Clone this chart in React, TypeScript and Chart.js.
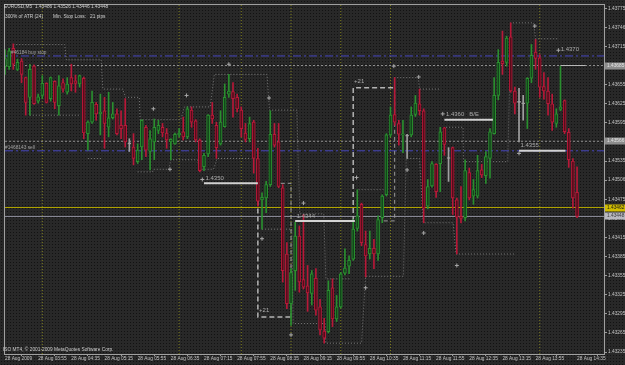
import React, { useEffect, useRef } from "react";
import { Chart, registerables } from "chart.js";

Chart.register(...registerables);

const SYMBOL = "EURUSD,M5";

const opens = [1.43683,1.43683,1.43712,1.43679,1.43692,1.43666,1.43635,1.43684,1.43629,1.43638,1.43657,1.43633,1.43660,1.43622,1.43658,1.43643,1.43666,1.43661,1.43656,1.43665,1.43578,1.43596,1.43624,1.43609,1.43614,1.43588,1.43603,1.43609,1.43591,1.43591,1.43562,1.43557,1.43534,1.43557,1.43588,1.43550,1.43565,1.43583,1.43588,1.43579,1.43565,1.43562,1.43576,1.43581,1.43573,1.43615,1.43598,1.43568,1.43526,1.43546,1.43607,1.43591,1.43562,1.43589,1.43640,1.43644,1.43635,1.43615,1.43579,1.43570,1.43596,1.43539,1.43474,1.43477,1.43498,1.43577,1.43565,1.43493,1.43389,1.43311,1.43363,1.43417,1.43349,1.43339,1.43327,1.43351,1.43306,1.43268,1.43267,1.43336,1.43287,1.43306,1.43359,1.43370,1.43381,1.43429,1.43467,1.43404,1.43389,1.43398,1.43389,1.43446,1.43482,1.43576,1.43608,1.43594,1.43576,1.43574,1.43576,1.43608,1.43625,1.43614,1.43464,1.43496,1.43530,1.43531,1.43587,1.43539,1.43556,1.43474,1.43448,1.43446,1.43517,1.43480,1.43480,1.43521,1.43512,1.43539,1.43578,1.43638,1.43692,1.43690,1.43730,1.43645,1.43627,1.43625,1.43626,1.43665,1.43706,1.43697,1.43652,1.43645,1.43625,1.43594,1.43616,1.43630,1.43580,1.43535,1.43486];
const highs = [1.43710,1.43712,1.43719,1.43695,1.43696,1.43667,1.43687,1.43686,1.43640,1.43669,1.43658,1.43667,1.43661,1.43669,1.43664,1.43666,1.43687,1.43670,1.43670,1.43667,1.43598,1.43645,1.43627,1.43640,1.43635,1.43643,1.43627,1.43617,1.43614,1.43633,1.43570,1.43578,1.43562,1.43600,1.43591,1.43583,1.43601,1.43599,1.43594,1.43586,1.43570,1.43579,1.43586,1.43604,1.43620,1.43620,1.43600,1.43570,1.43547,1.43608,1.43627,1.43596,1.43614,1.43656,1.43671,1.43658,1.43640,1.43620,1.43594,1.43604,1.43599,1.43555,1.43485,1.43503,1.43614,1.43594,1.43594,1.43498,1.43407,1.43366,1.43439,1.43433,1.43451,1.43371,1.43363,1.43366,1.43318,1.43288,1.43347,1.43350,1.43324,1.43360,1.43397,1.43386,1.43443,1.43490,1.43469,1.43425,1.43425,1.43412,1.43449,1.43482,1.43578,1.43620,1.43666,1.43599,1.43599,1.43577,1.43620,1.43638,1.43648,1.43617,1.43506,1.43534,1.43531,1.43588,1.43588,1.43556,1.43557,1.43477,1.43495,1.43537,1.43524,1.43506,1.43544,1.43530,1.43550,1.43586,1.43666,1.43710,1.43739,1.43731,1.43752,1.43651,1.43649,1.43638,1.43666,1.43718,1.43726,1.43702,1.43674,1.43666,1.43640,1.43617,1.43684,1.43631,1.43586,1.43539,1.43526];
const lows = [1.43671,1.43679,1.43679,1.43677,1.43658,1.43607,1.43607,1.43624,1.43626,1.43633,1.43626,1.43629,1.43617,1.43607,1.43643,1.43640,1.43645,1.43643,1.43651,1.43570,1.43552,1.43594,1.43599,1.43576,1.43555,1.43573,1.43601,1.43576,1.43570,1.43557,1.43550,1.43529,1.43531,1.43537,1.43542,1.43521,1.43537,1.43578,1.43573,1.43555,1.43537,1.43561,1.43573,1.43568,1.43570,1.43588,1.43565,1.43518,1.43520,1.43542,1.43594,1.43539,1.43560,1.43588,1.43635,1.43604,1.43612,1.43573,1.43565,1.43565,1.43516,1.43464,1.43428,1.43454,1.43495,1.43557,1.43493,1.43345,1.43303,1.43277,1.43332,1.43329,1.43334,1.43299,1.43309,1.43293,1.43262,1.43249,1.43265,1.43275,1.43283,1.43304,1.43356,1.43358,1.43379,1.43425,1.43402,1.43353,1.43381,1.43366,1.43379,1.43438,1.43480,1.43573,1.43591,1.43560,1.43548,1.43539,1.43573,1.43605,1.43607,1.43438,1.43460,1.43494,1.43478,1.43487,1.43544,1.43503,1.43451,1.43389,1.43438,1.43441,1.43474,1.43467,1.43477,1.43509,1.43500,1.43508,1.43577,1.43631,1.43671,1.43684,1.43643,1.43609,1.43565,1.43599,1.43586,1.43658,1.43679,1.43635,1.43632,1.43607,1.43583,1.43588,1.43614,1.43578,1.43525,1.43461,1.43446];
const closes = [1.43696,1.43708,1.43687,1.43690,1.43671,1.43627,1.43679,1.43625,1.43636,1.43657,1.43627,1.43666,1.43627,1.43653,1.43648,1.43656,1.43656,1.43657,1.43669,1.43579,1.43596,1.43627,1.43609,1.43612,1.43594,1.43603,1.43609,1.43578,1.43586,1.43565,1.43562,1.43539,1.43552,1.43599,1.43552,1.43570,1.43588,1.43591,1.43579,1.43568,1.43569,1.43577,1.43579,1.43573,1.43617,1.43596,1.43568,1.43520,1.43544,1.43607,1.43601,1.43556,1.43596,1.43635,1.43645,1.43633,1.43617,1.43586,1.43569,1.43594,1.43539,1.43472,1.43478,1.43498,1.43577,1.43560,1.43495,1.43363,1.43311,1.43360,1.43417,1.43345,1.43337,1.43328,1.43358,1.43301,1.43270,1.43257,1.43332,1.43287,1.43306,1.43358,1.43367,1.43379,1.43428,1.43449,1.43407,1.43386,1.43398,1.43389,1.43443,1.43480,1.43576,1.43607,1.43596,1.43577,1.43577,1.43574,1.43607,1.43626,1.43614,1.43461,1.43495,1.43531,1.43487,1.43581,1.43561,1.43539,1.43477,1.43447,1.43445,1.43520,1.43477,1.43490,1.43520,1.43513,1.43542,1.43581,1.43638,1.43690,1.43688,1.43728,1.43645,1.43626,1.43627,1.43625,1.43665,1.43701,1.43696,1.43651,1.43645,1.43625,1.43596,1.43609,1.43620,1.43581,1.43537,1.43477,1.43448];

const xTickIdx = [0, 8, 16, 24, 32, 40, 48, 56, 64, 72, 80, 88, 96, 104, 112, 120, 128, 138];
const xTickLabels = ["28 Aug 2009", "28 Aug 03:55", "28 Aug 04:35", "28 Aug 05:15", "28 Aug 05:55", "28 Aug 06:35", "28 Aug 07:15", "28 Aug 07:55", "28 Aug 08:35", "28 Aug 09:15", "28 Aug 09:55", "28 Aug 10:35", "28 Aug 11:15", "28 Aug 11:55", "28 Aug 12:35", "28 Aug 13:15", "28 Aug 13:55", "28 Aug 14:35"];

const yTickValues = [1.43775, 1.43745, 1.43715, 1.43685, 1.43655, 1.43625, 1.43595, 1.43565, 1.43535, 1.43505, 1.43475, 1.43445, 1.43415, 1.43385, 1.43355, 1.43325, 1.43295, 1.43265, 1.43235];
const yTickLabels = ["1.43775", "1.43746", "1.43715", "1.43685", "1.43655", "1.43625", "1.43595", "1.43566", "1.43535", "1.43506", "1.43475", "1.43446", "1.43415", "1.43385", "1.43355", "1.43325", "1.43295", "1.43265", "1.43235"];

const separatorIdx = [9, 42, 57, 69, 81, 93, 129];

const orderLevels = [1.43700, 1.43551];
const orderLabels = ["#46184 buy stop", "#1468143 sell"];
const dottedLevels = [1.43685, 1.43566];
const dottedLabels = ["1.43685", "1.43566"];
const askPrice = 1.43462;
const bidPrice = 1.43448;

const upperStops = [
  [2, 14.4, 1.43718], [14.8, 23.2, 1.43694], [23.6, 28.4, 1.43648], [29.1, 32.4, 1.43635],
  [32.6, 42.4, 1.43600], [43.3, 49.5, 1.43620], [50.5, 63.2, 1.43671], [63.8, 70.4, 1.43615],
  [71.1, 76.9, 1.43452], [77.4, 83.5, 1.43350], [85.3, 91.3, 1.43490], [93.9, 99.7, 1.43666],
  [100, 105.2, 1.43648], [106.4, 110.5, 1.43588], [110.6, 121.3, 1.43534], [122, 127.5, 1.43752],
  [128, 133.3, 1.43727],
];
const lowerStops = [
  [6, 18.3, 1.43607], [20, 23.6, 1.43539], [32, 35.6, 1.43518], [35.8, 39.5, 1.43522],
  [40, 46.4, 1.43537], [47, 50.3, 1.43522], [51.2, 59.4, 1.43539], [62, 69.2, 1.43428],
  [69.5, 77.2, 1.43280], [77.4, 86, 1.43249], [87, 96.1, 1.43354], [96.8, 100, 1.43539],
  [100.9, 108.1, 1.43438], [108.8, 123.2, 1.43389],
];

const profitEdgesMain = [
  [[61, 1.43498], [61, 1.43290], [69, 1.43290]],
  [[84, 1.43441], [84, 1.43650], [94, 1.43650]],
];
const profitEdgesSide = [
  [[69, 1.43290], [69, 1.43500], [66, 1.43500]],
  [[94, 1.43650], [94, 1.43441], [91, 1.43441]],
];
const profitText = ["+21", "+21"];
const profitTextAt = [[61.3, 1.43296], [84.2, 1.43656]];

const entryStart = [48, 70, 106, 124];
const entryEnd = [61, 84.4, 117.7, 135.2];
const entryPrice = [1.43500, 1.43441, 1.43600, 1.43551];
const entryText = ["1.4350", "1.4344", "1.4360   B/E", "1.4355"];
const targetText = "1.4370";
const targetAt = [133.8, 1.43705];
const targetLine = [134, 140, 1.43685];

const markerIdx = [35.8, 43.8, 54, 63.7, 39.8, 62, 69, 84.8, 72, 87, 93.8, 99.8, 97, 101, 127.8, 109, 47.6, 105.6, 124, 133.5];
const markerPrice = [1.43617, 1.43638, 1.43687, 1.43634, 1.43522, 1.43413, 1.43262, 1.43509, 1.43469, 1.43336, 1.43684, 1.43667, 1.43521, 1.43422, 1.43747, 1.43371, 1.43506, 1.43609, 1.43547, 1.43709];

const X_MIN = 0;
const X_MAX = 144.5;
const Y_MIN = 1.43232;
const Y_MAX = 1.4378;
const FONT = '"Liberation Sans", Arial, sans-serif';

function stepPoints(segs: number[][]) {
  const pts: any[] = [];
  let prevEnd: number | null = null;
  for (const [s, e, p] of segs) {
    if (prevEnd !== null && s - prevEnd > 1.2) pts.push({ x: (s + prevEnd) / 2, y: null });
    pts.push({ x: s, y: p }, { x: e, y: p });
    prevEnd = e;
  }
  return pts;
}

function hLine(p: number, color: string, dash: number[], width = 1, order = 9) {
  return {
    type: "line",
    data: [{ x: X_MIN, y: p }, { x: X_MAX, y: p }],
    borderColor: color,
    borderWidth: width,
    borderDash: dash,
    pointRadius: 0,
    order,
  };
}

function polyline(pts: number[][], color: string, width: number, dash: number[], order: number) {
  return {
    type: "line",
    data: pts.map(([x, y]) => ({ x, y })),
    borderColor: color,
    borderWidth: width,
    borderDash: dash,
    pointRadius: 0,
    order,
  };
}

export default function App() {
  const ref = useRef<HTMLCanvasElement | null>(null);

  useEffect(() => {
    if (!ref.current) return;
    const n = opens.length;
    const idx = opens.map((_, i) => i);
    const bull = "#2a8f2f";
    const bear = "#b81838";
    const doji = "#a0a0a0";
    const lineCol = idx.map((i) => (closes[i] > opens[i] ? bull : closes[i] < opens[i] ? bear : doji));
    const fillCol = idx.map((i) => (closes[i] > opens[i] ? "#12461a" : closes[i] < opens[i] ? "#540d1b" : doji));

    const vData: any[] = [];
    separatorIdx.forEach((v) => {
      vData.push({ x: v, y: Y_MIN }, { x: v, y: Y_MAX }, { x: v, y: null });
    });

    const tile = document.createElement("canvas");
    tile.width = 3;
    tile.height = 3;
    const tctx = tile.getContext("2d")!;
    tctx.fillStyle = "#282828";
    tctx.fillRect(0, 0, 3, 3);
    tctx.fillStyle = "#121212";
    tctx.fillRect(1, 1, 1, 1);

    const datasets: any[] = [
      {
        type: "line",
        data: vData,
        borderColor: "#7c7c1c",
        borderWidth: 1,
        borderDash: [1, 2],
        pointRadius: 0,
        spanGaps: false,
        order: 12,
      },
      hLine(dottedLevels[0], "#8c8c8c", [2, 2], 1, 11),
      hLine(dottedLevels[1], "#8c8c8c", [2, 2], 1, 11),
      hLine(orderLevels[0], "#4848c0", [8, 3, 2, 3], 1, 10),
      hLine(orderLevels[1], "#4848c0", [8, 3, 2, 3], 1, 10),
      hLine(askPrice, "#b0a400", [], 1, 10),
      hLine(bidPrice, "#8e8e9c", [], 1, 10),
      {
        type: "line",
        data: stepPoints(upperStops),
        borderColor: "#787878",
        borderWidth: 1,
        borderDash: [1, 2],
        pointRadius: 0,
        spanGaps: false,
        order: 8,
      },
      {
        type: "line",
        data: stepPoints(lowerStops),
        borderColor: "#787878",
        borderWidth: 1,
        borderDash: [1, 2],
        pointRadius: 0,
        spanGaps: false,
        order: 8,
      },
      ...profitEdgesMain.map((b) => polyline(b, "#b4b4b4", 1.5, [5, 3], 7)),
      ...profitEdgesSide.map((b) => polyline(b, "#9a9a9a", 1, [4, 3], 7)),
      {
        type: "bar",
        data: idx.map((i) => ({ x: i, y: [lows[i], highs[i]] })),
        backgroundColor: lineCol,
        borderWidth: 0,
        barThickness: 1,
        grouped: false,
        order: 3,
      },
      {
        type: "bar",
        data: idx.map((i) => ({ x: i, y: [opens[i], closes[i]] })),
        backgroundColor: fillCol,
        borderColor: lineCol,
        borderWidth: 1,
        borderSkipped: false,
        barThickness: 3,
        minBarLength: 1,
        grouped: false,
        order: 2,
      },
      ...entryPrice.map((p, k) => ({
        type: "line",
        data: [{ x: entryStart[k], y: p }, { x: entryEnd[k], y: p }],
        borderColor: "#d2d2d2",
        borderWidth: 2,
        pointRadius: 0,
        order: 1,
      })),
      {
        type: "line",
        data: [{ x: targetLine[0], y: targetLine[2] }, { x: targetLine[1], y: targetLine[2] }],
        borderColor: "#b8b8b8",
        borderWidth: 1,
        pointRadius: 0,
        order: 1,
      },
      {
        type: "scatter",
        data: markerIdx.map((x, k) => ({ x, y: markerPrice[k] })),
        pointStyle: "cross",
        pointRadius: 2,
        borderColor: "#a8a8a8",
        borderWidth: 1,
        showLine: false,
        order: 0,
      },
    ];

    const plugin = {
      id: "mt4look",
      beforeDraw(chart: any) {
        const c = chart.ctx;
        c.save();
        c.fillStyle = c.createPattern(tile, "repeat");
        c.fillRect(0, 0, chart.width, chart.height);
        c.restore();
      },
      afterDraw(chart: any) {
        const c = chart.ctx;
        const a = chart.chartArea;
        const xs = chart.scales.x;
        const ys = chart.scales.y;
        c.save();
        c.strokeStyle = "#a0a0a0";
        c.lineWidth = 1;
        c.strokeRect(a.left - 0.5, a.top - 0.5, a.right - a.left + 1, a.bottom - a.top + 1);

        const box = (p: number, txt: string, bg: string, fg: string) => {
          const yy = Math.round(ys.getPixelForValue(p));
          c.fillStyle = bg;
          c.fillRect(a.right + 1, yy - 3.5, 21, 7);
          c.fillStyle = fg;
          c.font = `4.8px ${FONT}`;
          c.textBaseline = "middle";
          c.textAlign = "left";
          c.fillText(txt, a.right + 3, yy);
        };
        box(dottedLevels[0], dottedLabels[0], "#8c8c8c", "#e4e4e4");
        box(dottedLevels[1], dottedLabels[1], "#8c8c8c", "#e4e4e4");
        box(askPrice, askPrice.toFixed(5), "#d0bc00", "#1a1a1a");
        box(bidPrice, bidPrice.toFixed(5), "#b8b8c0", "#3a3a3a");

        c.textAlign = "left";
        c.textBaseline = "middle";
        c.font = `4.8px ${FONT}`;
        c.fillStyle = "#cfcfcf";
        const last = n - 1;
        c.fillText(
          `${SYMBOL}  ${opens[last].toFixed(5)} ${highs[last].toFixed(5)} ${lows[last].toFixed(5)} ${closes[last].toFixed(5)}`,
          4,
          6.5
        );
        c.fillText("300% of ATR (24)", 5, 17);
        c.fillText("Min. Stop Loss:", 53, 17);
        c.fillText("21 pips", 90, 17);
        c.fillText("ISO MT4, \u00A9 2001-2009 MetaQuotes Software Corp.", 3, 350);

        c.fillStyle = "#a4a4a4";
        c.textBaseline = "bottom";
        c.fillText(orderLabels[0], 11, ys.getPixelForValue(orderLevels[0]) - 0.5);
        c.fillText(orderLabels[1], 5, ys.getPixelForValue(orderLevels[1]) - 0.5);

        c.font = `6px ${FONT}`;
        c.fillStyle = "#ababab";
        c.textBaseline = "bottom";
        entryText.forEach((t, k) => {
          c.fillText(t, xs.getPixelForValue(entryStart[k]) + 1.5, ys.getPixelForValue(entryPrice[k]) - 2);
        });
        c.fillText(targetText, xs.getPixelForValue(targetAt[0]) + 1, ys.getPixelForValue(targetAt[1]));
        profitText.forEach((t, k) => {
          c.fillText(t, xs.getPixelForValue(profitTextAt[k][0]), ys.getPixelForValue(profitTextAt[k][1]));
        });
        c.restore();
      },
    };

    const chart = new Chart(ref.current, {
      type: "bar",
      data: { datasets },
      plugins: [plugin],
      options: {
        animation: false,
        responsive: false,
        devicePixelRatio: 1,
        events: [],
        layout: { padding: { left: 2, top: 2, right: 0, bottom: 0 } },
        plugins: { legend: { display: false }, tooltip: { enabled: false } },
        scales: {
          x: {
            type: "linear",
            min: X_MIN,
            max: X_MAX,
            offset: false,
            afterBuildTicks: (s: any) => {
              s.ticks = xTickIdx.map((v) => ({ value: v }));
            },
            afterFit: (s: any) => {
              s.height = 11;
            },
            ticks: {
              autoSkip: false,
              maxRotation: 0,
              minRotation: 0,
              align: "start",
              padding: 0,
              color: "#c4c4c4",
              font: { size: 4.8, family: FONT },
              callback: (_v: any, i: number) => xTickLabels[i],
            },
            grid: { drawOnChartArea: false, drawTicks: true, tickLength: 2, tickColor: "#9a9a9a" },
            border: { display: false },
          },
          y: {
            type: "linear",
            position: "right",
            min: Y_MIN,
            max: Y_MAX,
            afterBuildTicks: (s: any) => {
              s.ticks = yTickValues.map((v) => ({ value: v }));
            },
            afterFit: (s: any) => {
              s.width = 21;
            },
            ticks: {
              autoSkip: false,
              padding: 1,
              color: "#c4c4c4",
              font: { size: 4.8, family: FONT },
              callback: (_v: any, i: number) => yTickLabels[i],
            },
            grid: { drawOnChartArea: false, drawTicks: true, tickLength: 3, tickColor: "#9a9a9a" },
            border: { display: false },
          },
        },
      } as any,
    } as any);

    return () => chart.destroy();
  }, []);

  return (
    <div style={{ position: "fixed", left: 0, top: 0, width: 625, height: 365, background: "#262626" }}>
      <canvas ref={ref} width={625} height={365} style={{ display: "block", width: 625, height: 365 }} />
    </div>
  );
}
